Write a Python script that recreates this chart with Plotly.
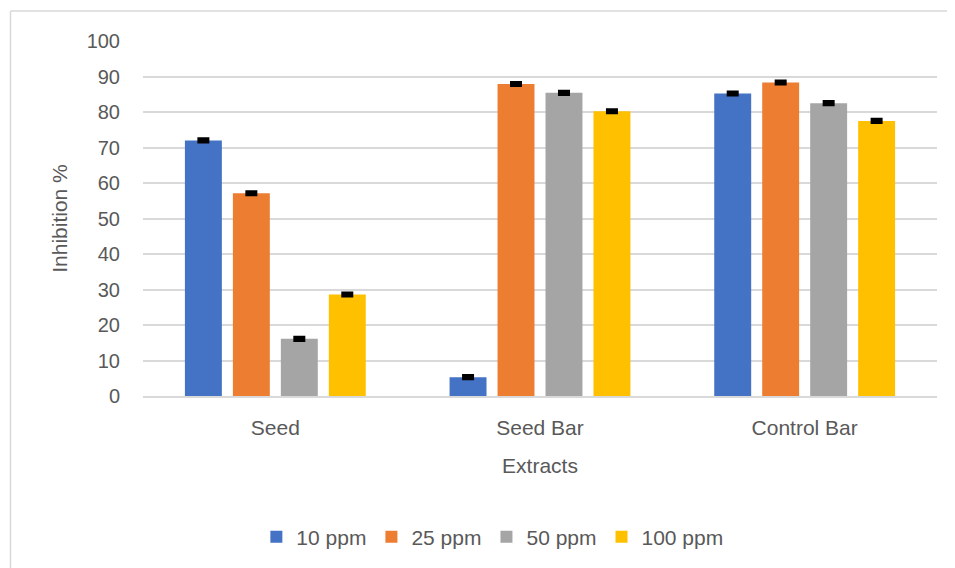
import plotly.graph_objects as go

categories = ["Seed", "Seed Bar", "Control Bar"]
series_names = ["10 ppm", "25 ppm", "50 ppm", "100 ppm"]
v_10 = [72.0, 5.3, 85.2]
v_25 = [57.1, 87.9, 88.3]
v_50 = [16.1, 85.4, 82.5]
v_100 = [28.6, 80.2, 77.5]
err = [0.3, 0.3, 0.3]
colors = ["#4472C4", "#ED7D31", "#A5A5A5", "#FFC000"]
y_ticks = [0, 10, 20, 30, 40, 50, 60, 70, 80, 90, 100]

FONT = "Liberation Sans"
fig = go.Figure()
for name, vals, col in zip(series_names, [v_10, v_25, v_50, v_100], colors):
    fig.add_trace(go.Bar(
        x=categories, y=vals, name=name, marker_color=col,
        marker_line_width=0,
        error_y=dict(type="data", array=err, visible=True, color="black",
                     thickness=4, width=6),
    ))

fig.update_layout(
    width=947, height=560,
    margin=dict(l=135, r=18, t=33, b=172, autoexpand=False),
    paper_bgcolor="white", plot_bgcolor="white",
    barmode="group", bargap=0.275, bargroupgap=0.23,
    font=dict(family=FONT, color="#595959", size=20),
    showlegend=True,
    legend=dict(orientation="h", x=0.44, xanchor="center", y=-0.34, yanchor="top",
                font=dict(size=21, color="#595959"), traceorder="normal",
                itemwidth=30),
    xaxis=dict(showgrid=False, showline=True, linecolor="#D9D9D9", linewidth=1.5,
               ticks="", tickfont=dict(size=21), ticklabelstandoff=12,
               title=dict(text="Extracts", font=dict(size=21), standoff=20)),
    yaxis=dict(range=[0, 100], tickvals=y_ticks, showgrid=True, gridcolor="#D9D9D9",
               gridwidth=1.5, zeroline=False, showline=False, ticks="",
               tickfont=dict(size=20), ticklabelstandoff=22,
               title=dict(text="Inhibition %", font=dict(size=21), standoff=13)),
    shapes=[
        dict(type="line", xref="paper", yref="paper", x0=-0.1669, x1=1.05, y0=1.0845, y1=1.0845,
             line=dict(color="#D9D9D9", width=1.5)),
        dict(type="line", xref="paper", yref="paper", x0=-0.1669, x1=-0.1669, y0=1.0845, y1=-0.6,
             line=dict(color="#D9D9D9", width=1.5)),
    ],
)
fig.write_html("out.html")
